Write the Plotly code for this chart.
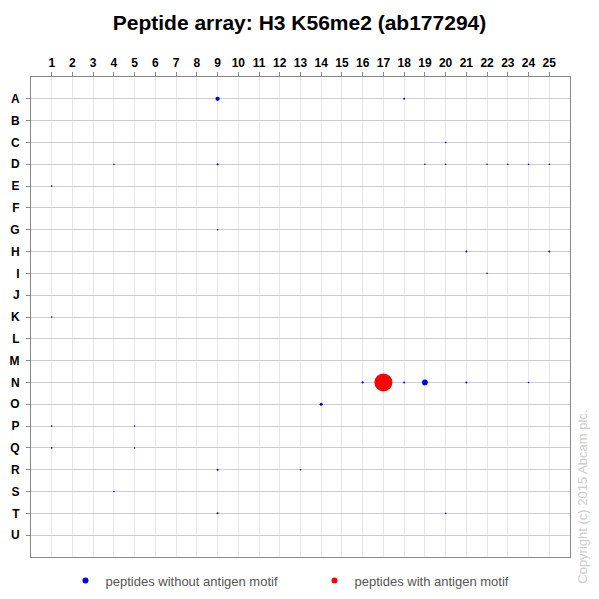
import plotly.graph_objects as go

# peptide array layout
cols = list(range(1, 26))
rows = list("ABCDEFGHIJKLMNOPQRSTU")

# spots: (column, row, relative signal)
blue_col = [9, 18, 20, 4, 9, 19, 20, 22, 23, 24, 25, 1, 9, 21, 25, 22, 1,
            16, 18, 19, 21, 24, 14, 1, 5, 1, 5, 9, 13, 4, 9, 20]
blue_row = ["A", "A", "C", "D", "D", "D", "D", "D", "D", "D", "D", "E", "G", "H", "H", "I", "K",
            "N", "N", "N", "N", "N", "O", "P", "P", "Q", "Q", "R", "R", "S", "T", "T"]
blue_val = [24, 11, 9, 9, 11, 9, 9, 9, 9, 9, 9, 9, 9, 11, 11, 9, 9,
            12, 11, 32, 11, 9, 17, 9, 8, 9, 8, 11, 9, 9, 11, 9]

red_col = [17]
red_row = ["N"]
red_val = [100]

row_idx = {r: i + 1 for i, r in enumerate(rows)}
sizeref = 100 / 18.0

fig = go.Figure()
fig.add_trace(go.Scatter(
    x=blue_col, y=[row_idx[r] for r in blue_row], mode="markers", showlegend=False,
    marker=dict(color="#0000ee", size=blue_val, sizemode="diameter", sizeref=sizeref,
                line_width=0, opacity=1),
))
fig.add_trace(go.Scatter(
    x=red_col, y=[row_idx[r] for r in red_row], mode="markers", showlegend=False,
    marker=dict(color="#ff0000", size=red_val, sizemode="diameter", sizeref=sizeref,
                line_width=0, opacity=1),
))
# legend entries with small fixed symbols
fig.add_trace(go.Scatter(x=[None], y=[None], mode="markers", name="peptides without antigen motif",
                         marker=dict(color="#0000ee", size=6)))
fig.add_trace(go.Scatter(x=[None], y=[None], mode="markers", name="peptides with antigen motif",
                         marker=dict(color="#ff0000", size=6)))

fig.update_layout(
    width=599, height=599,
    margin=dict(l=31, r=29, t=77, b=42, autoexpand=False),
    paper_bgcolor="white", plot_bgcolor="white",
    font=dict(family="Liberation Sans, Arial", color="#000"),
    title=dict(text="<b>Peptide array: H3 K56me2 (ab177294)</b>", x=0.5, xanchor="center",
               y=0.962, yanchor="middle", font=dict(size=21, color="#000")),
    showlegend=True,
    legend=dict(orientation="h", x=0.064, xanchor="left", y=-0.018, yanchor="top",
                entrywidth=204, entrywidthmode="pixels",
                font=dict(size=13, color="#555")),
    xaxis=dict(side="top", range=[0, 26], tickvals=cols, ticktext=[f"<b>{c}</b>" for c in cols],
               tickfont=dict(size=12), showgrid=True, gridcolor="#e6e6e6", gridwidth=1,
               zeroline=False, showline=True, linecolor="#888", mirror=True, automargin=False,
               ticks="outside", ticklen=4, tickcolor="#888", fixedrange=True),
    yaxis=dict(range=[22, 0], tickvals=list(range(1, 22)), ticktext=[f"<b>{r}</b>" for r in rows],
               tickfont=dict(size=12), showgrid=True, gridcolor="#cccccc", gridwidth=1,
               zeroline=False, showline=True, linecolor="#888", mirror=True, automargin=False,
               ticks="outside", ticklen=4, tickcolor="#888", ticklabelstandoff=4, fixedrange=True),
    annotations=[dict(text="Copyright (c) 2015 Abcam plc.", textangle=-90,
                      xref="paper", yref="paper", x=1.024, y=-0.06, xanchor="center", yanchor="bottom",
                      showarrow=False, font=dict(size=13, color="#cccccc"))],
)

fig.write_html("out.html", config={"displayModeBar": False},
               post_script="document.body.style.margin='0';")
